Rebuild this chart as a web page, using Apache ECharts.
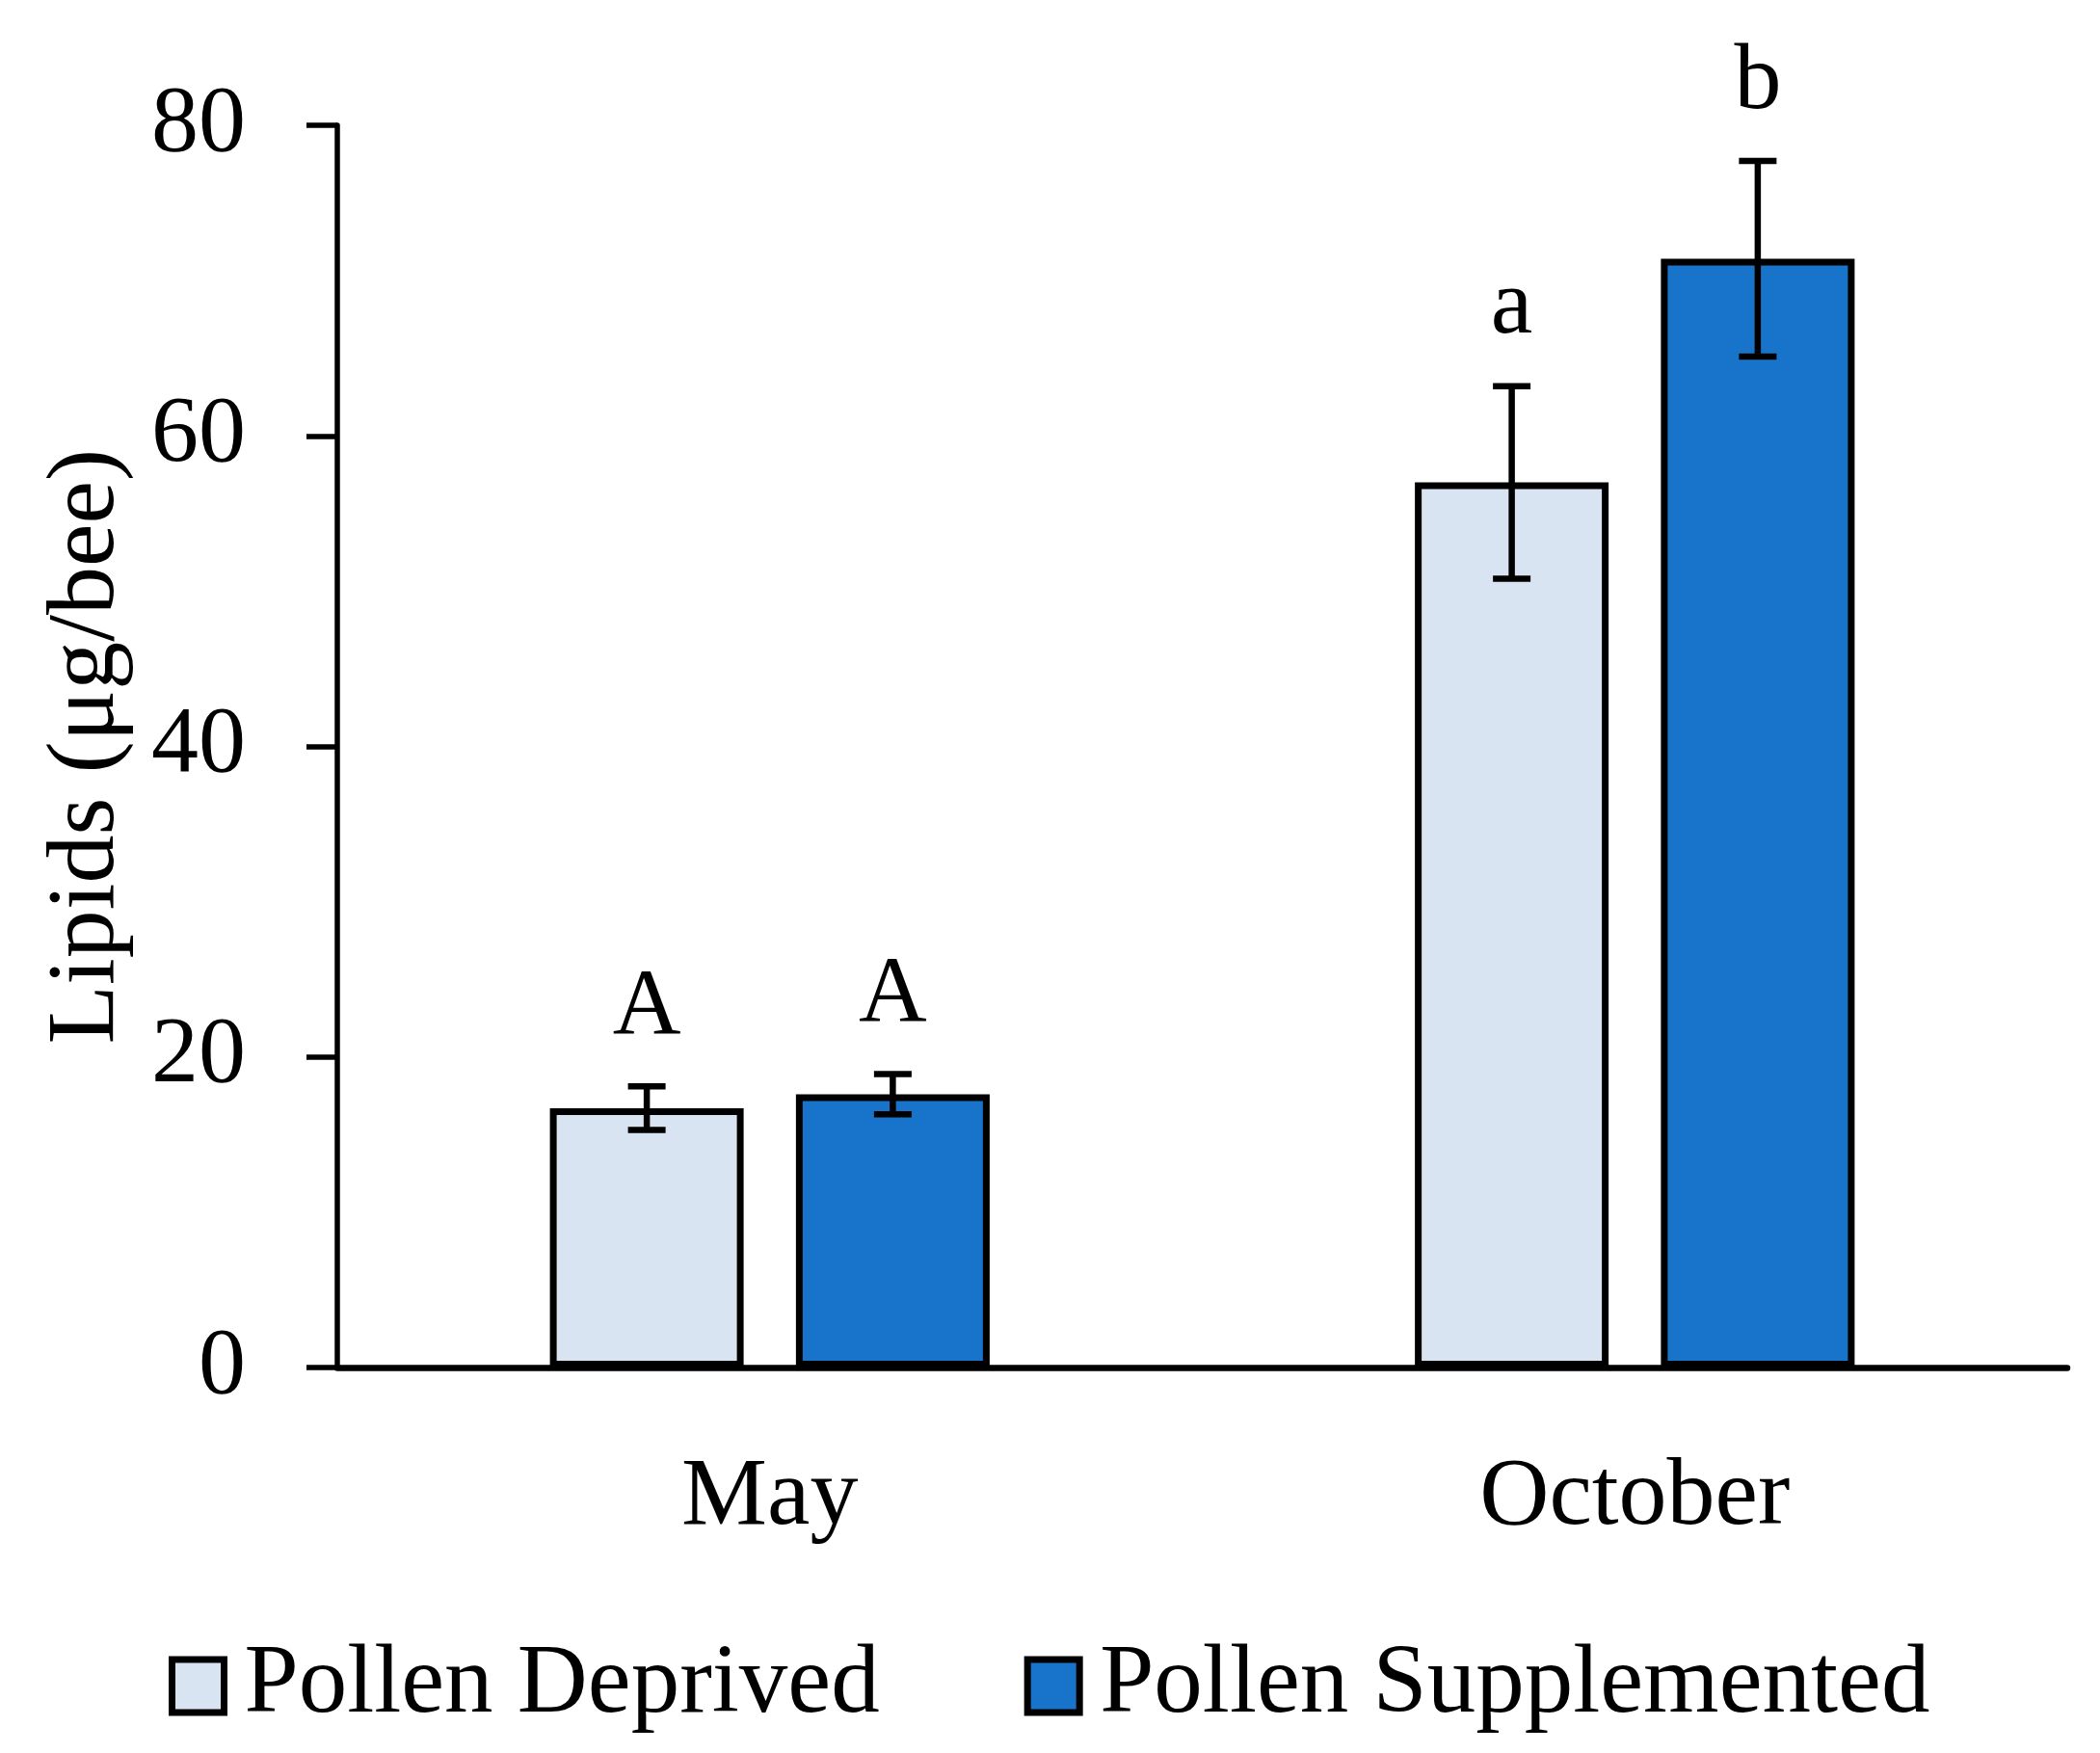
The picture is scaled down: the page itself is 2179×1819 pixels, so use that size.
<!DOCTYPE html>
<html lang="en">
<head>
	<meta charset="utf-8">
	<title>Lipids per bee</title>
	<script src="https://cdn.jsdelivr.net/npm/echarts@6/dist/echarts.min.js"></script>
	<style>
		html, body { margin: 0; padding: 0; background: #fff; }
		#chart { width: 2179px; height: 1819px; }
	</style>
</head>
<body>
<div id="chart"></div>
<script>
// values
var months = ['May', 'October'];
var deprivedMean = [16.7, 57.0];
var deprivedErr = [1.4, 6.2];
var deprivedLetters = ['A', 'a'];
var supplementedMean = [17.6, 71.4];
var supplementedErr = [1.3, 6.3];
var supplementedLetters = ['A', 'b'];
var yTicks = [0, 20, 40, 60, 80];

var FONT = '"Liberation Serif", "DejaVu Serif", serif';
var FS = 98;
var LW = 6.5;
var BAR_W = 201;
var BAR_GAP = 0.27;
var half = (BAR_W + BAR_W * BAR_GAP) / 2;

function errSeries(means, errs, letters, side) {
	return {
		type: 'custom',
		coordinateSystem: 'cartesian2d',
		z: 5,
		silent: true,
		data: means.map(function (m, i) { return [i, m, errs[i], letters[i]]; }),
		renderItem: function (params, api) {
			var i = api.value(0), m = api.value(1), e = api.value(2);
			var hi = api.coord([i, m + e]);
			var lo = api.coord([i, m - e]);
			var x = hi[0] + side * half;
			var cap = 19.5;
			var st = { stroke: '#000', lineWidth: LW };
			return {
				type: 'group',
				children: [
					{ type: 'line', shape: { x1: x, y1: hi[1], x2: x, y2: lo[1] }, style: st },
					{ type: 'line', shape: { x1: x - cap, y1: hi[1], x2: x + cap, y2: hi[1] }, style: st },
					{ type: 'line', shape: { x1: x - cap, y1: lo[1], x2: x + cap, y2: lo[1] }, style: st },
					{ type: 'text', x: x, y: hi[1] - 32, style: {
						text: letters[params.dataIndex], fill: '#000',
						font: FS + 'px ' + FONT, align: 'center', verticalAlign: 'bottom'
					} }
				]
			};
		}
	};
}

var chart = echarts.init(document.getElementById('chart'));
chart.setOption({
	animation: false,
	textStyle: { fontFamily: FONT },
	grid: { left: 350, right: 34, top: 130, bottom: 400, containLabel: false },
	legend: {
		left: 170,
		bottom: 14,
		itemWidth: 54,
		itemHeight: 55,
		itemGap: 150,
		icon: 'rect',
		itemStyle: { borderColor: '#000', borderWidth: 7 },
		textStyle: { fontSize: FS + 3, color: '#000', fontFamily: FONT, padding: [0, 0, 0, 16] },
		data: ['Pollen Deprived', 'Pollen Supplemented']
	},
	xAxis: {
		type: 'category',
		data: months,
		axisLine: { lineStyle: { color: '#000', width: LW } },
		axisTick: { show: false },
		axisLabel: { color: '#000', fontSize: FS + 2, margin: 86, fontFamily: FONT }
	},
	yAxis: {
		type: 'value',
		min: yTicks[0],
		max: yTicks[yTicks.length - 1],
		interval: yTicks[1] - yTicks[0],
		name: 'Lipids (μg/bee)',
		nameLocation: 'middle',
		nameGap: 209,
		nameTextStyle: { fontSize: FS + 2, color: '#000', fontFamily: FONT },
		axisLine: { show: true, lineStyle: { color: '#000', width: 5.5 } },
		axisTick: { show: true, length: 32, lineStyle: { color: '#000', width: 5.5 } },
		axisLabel: { color: '#000', fontSize: FS, margin: 95, fontFamily: FONT },
		splitLine: { show: false }
	},
	series: [
		{
			name: 'Pollen Deprived',
			type: 'bar',
			data: deprivedMean,
			barWidth: BAR_W,
			barGap: (BAR_GAP * 100) + '%',
			itemStyle: { color: '#D9E4F3', borderColor: '#000', borderWidth: 7 }
		},
		{
			name: 'Pollen Supplemented',
			type: 'bar',
			data: supplementedMean,
			barWidth: BAR_W,
			barGap: (BAR_GAP * 100) + '%',
			itemStyle: { color: '#1874CA', borderColor: '#000', borderWidth: 7 }
		},
		errSeries(deprivedMean, deprivedErr, deprivedLetters, -1),
		errSeries(supplementedMean, supplementedErr, supplementedLetters, 1)
	]
});
</script>
</body>
</html>
